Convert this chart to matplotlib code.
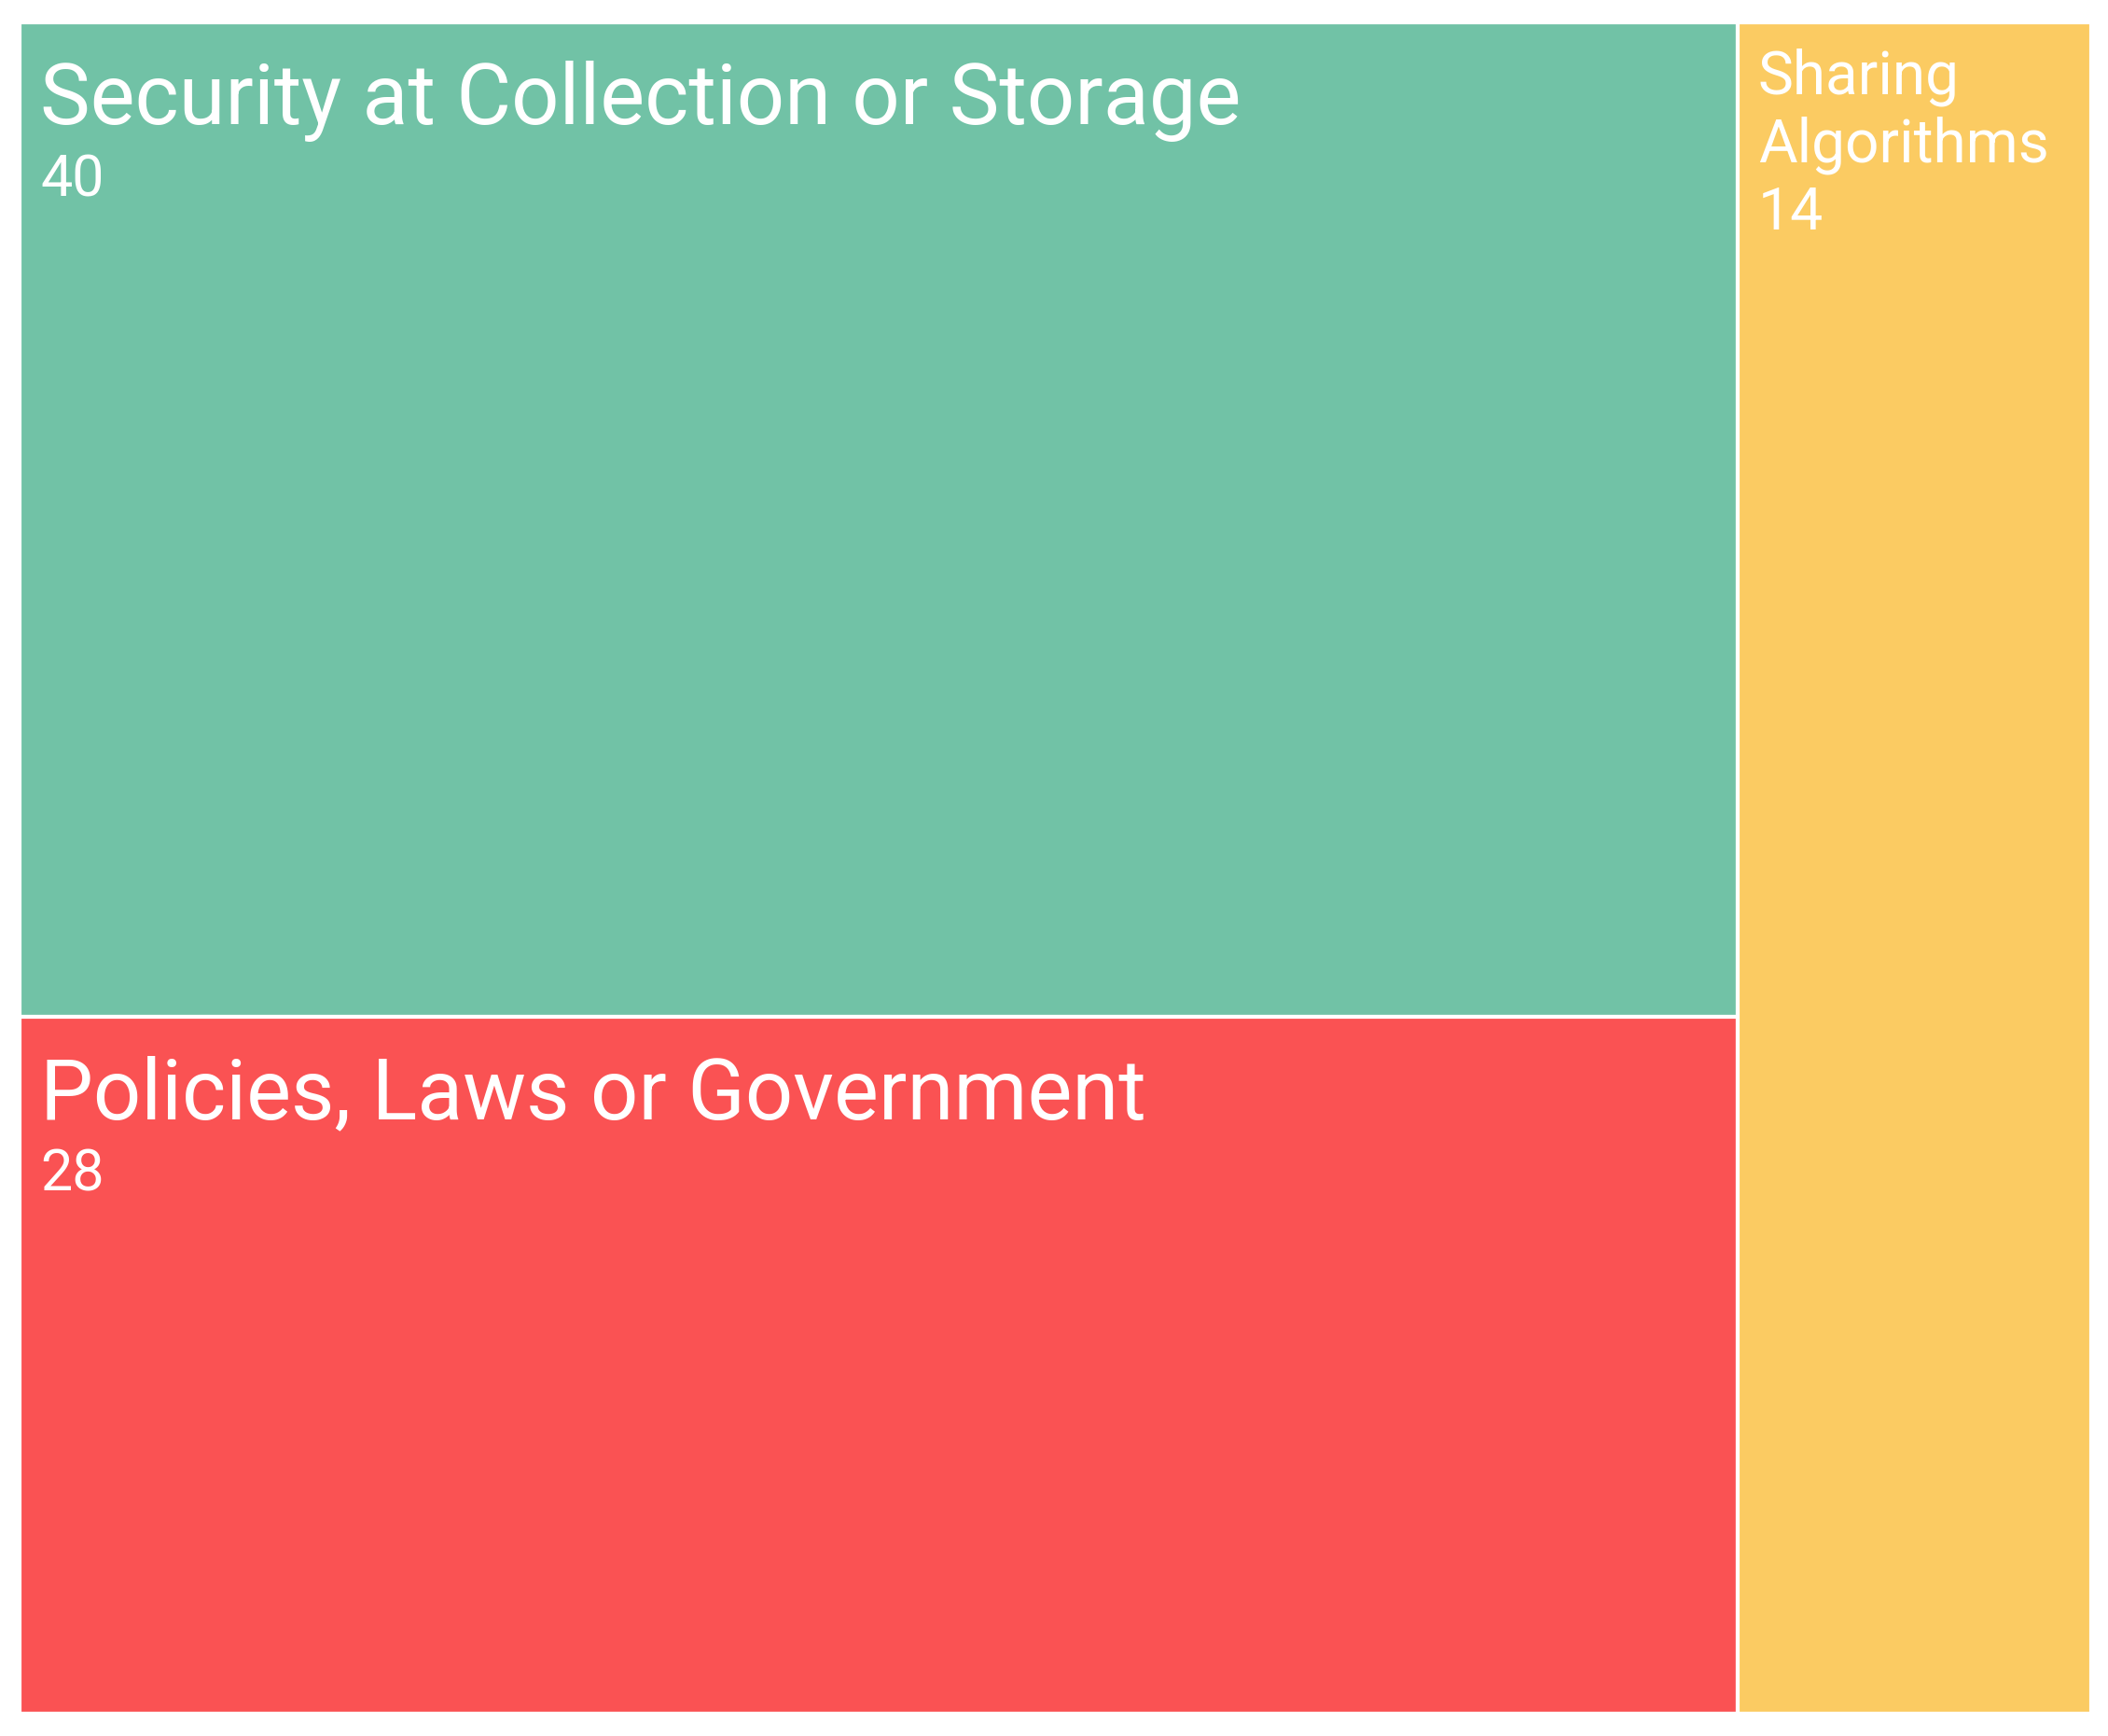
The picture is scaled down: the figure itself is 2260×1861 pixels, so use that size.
import textwrap
import matplotlib.pyplot as plt
from matplotlib.patches import Rectangle

plt.rcParams['font.family'] = ['Roboto', 'DejaVu Sans']

# treemap data
groups = ['Security at Collection or Storage', 'Policies, Laws or Government', 'Sharing Algorithms']
values = [40, 28, 14]
colors = ['#71C2A6', '#FA5253', '#FBCB62']

W, H = 2260, 1861
fig = plt.figure(figsize=(W / 100, H / 100), dpi=100)
# plot area in pixels (left, top, right, bottom)
L, T, R, B = 21, 24, 2242, 1837
ax = fig.add_axes([L / W, 1 - B / H, (R - L) / W, (B - T) / H])
ax.set_xlim(0, 1)
ax.set_ylim(1, 0)
ax.axis('off')

# slice: last category takes a full-height column, the rest are stacked
total = sum(values)
stacked = sum(values[:2])
col_w = stacked / total
rects = []
y = 0
for v in values[:2]:
    h = v / stacked
    rects.append((0, y, col_w, h))
    y += h
rects.append((col_w, 0, 1 - col_w, 1))

for (x0, y0, w, h), name, val, c in zip(rects, groups, values, colors):
    ax.add_patch(Rectangle((x0, y0), w, h, facecolor=c, edgecolor='white', linewidth=3))
    wide = w > 0.5
    name_size = 65 if wide else 46
    val_size = 44 if wide else 45
    lines = [name] if wide else textwrap.fill(name, 12).split('\n')
    step = 73
    first = 109 if wide else 76
    for i, ln in enumerate(lines):
        ax.annotate(ln, (x0, y0), xytext=(22, -(first + i * step)), textcoords='offset pixels',
                    ha='left', va='baseline', color='white', fontsize=name_size)
    vy = first + 77 if wide else first + len(lines) * step
    ax.annotate(str(val), (x0, y0), xytext=(22, -vy), textcoords='offset pixels',
                ha='left', va='baseline', color='white', fontsize=val_size)

fig.savefig('out.png', dpi=100, facecolor='white')
